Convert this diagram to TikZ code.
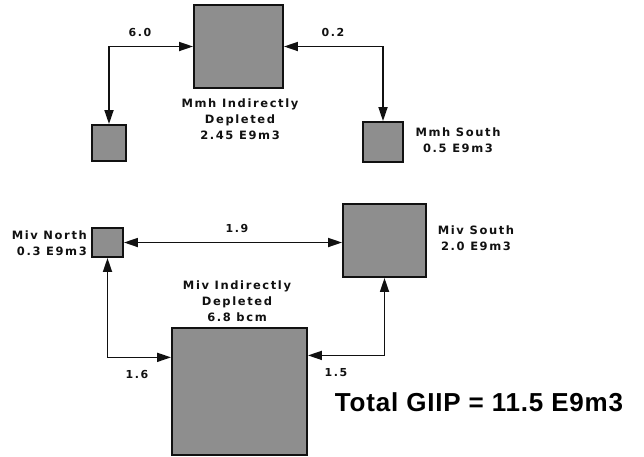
\documentclass[tikz,border=0pt]{standalone}
\usepackage{fontspec}
\setmainfont{Liberation Sans}
\newfontfamily\lblfont[LetterSpace=14]{DejaVu Sans}
\newfontfamily\totfont[LetterSpace=3]{Liberation Sans}
\usetikzlibrary{arrows.meta,positioning,calc}
\definecolor{resink}{HTML}{111111}
\definecolor{resfill}{HTML}{8E8E8E}
\tikzset{
  res/.style={draw=resink, line width=1.9pt, fill=resfill, inner sep=0pt},
  arr2/.style={{Triangle[length=14pt,width=9pt]}-{Triangle[length=14pt,width=9pt]}, line width=1.7pt, color=resink},
  lbl/.style={font=\lblfont\bfseries\fontsize{11.5}{16}\selectfont, align=center, inner sep=0pt, text=resink},
  num/.style={font=\lblfont\bfseries\fontsize{11}{14}\selectfont, inner sep=0pt, text=resink},
}
\begin{document}
\begin{tikzpicture}[x=1pt, y=-1pt]
      \useasboundingbox (0,0) rectangle (644,456);
      \node[res, minimum width=89pt, minimum height=83pt] (mmh) at (238.5,46.5) {};
      \node[res, minimum width=34pt, minimum height=36pt] (mmhw) at (109,143) {};
      \node[res, minimum width=40pt, minimum height=40pt] (mmhs) at (383,142) {};
      \node[res, minimum width=31pt, minimum height=29pt] (mivn) at (107.5,242.5) {};
      \node[res, minimum width=83pt, minimum height=73pt] (mivs) at (384.5,240.5) {};
      \node[res, minimum width=135pt, minimum height=127pt] (miv) at (239.5,391.5) {};
      \node[lbl] (mmhlbl) at (240,119) {Mmh Indirectly\\Depleted\\2.45 E9m3};
      \node[lbl] (mmhslbl) at (458,140.5) {Mmh South\\0.5 E9m3};
      \node[lbl, align=right, anchor=east] (mivnlbl) at (87,243.5) {Miv North\\0.3 E9m3};
      \node[lbl] (mivslbl) at (476,238) {Miv South\\2.0 E9m3};
      \node[lbl] (mivlbl) at (237,301) {Miv Indirectly\\Depleted\\6.8 bcm};
      \node[font=\totfont\bfseries\fontsize{26}{30}\selectfont, inner sep=0pt] (tot) at (479,402) {Total GIIP = 11.5 E9m3};
      \coordinate (w16) at ($(miv.north west)!0.235!(miv.south west)$);
      \coordinate (e15) at ($(miv.north east)!0.22!(miv.south east)$);
      \draw[arr2] (mmhw.north) |- (mmh.west);
      \draw[arr2] (mmh.east) -| (mmhs.north);
      \draw[arr2] (mivn.east) -- (mivn.east -| mivs.west);
      \draw[arr2] (mivn.south) |- (w16);
      \draw[arr2] (e15) -| (mivs.south);
      \node[num] (n60) at (140,32) {6.0};
      \node[num] (n02) at (333,32) {0.2};
      \node[num] (n19) at (237,228) {1.9};
      \node[num] (n16) at (137,374) {1.6};
      \node[num] (n15) at (336,373) {1.5};
    \end{tikzpicture}
\end{document}
